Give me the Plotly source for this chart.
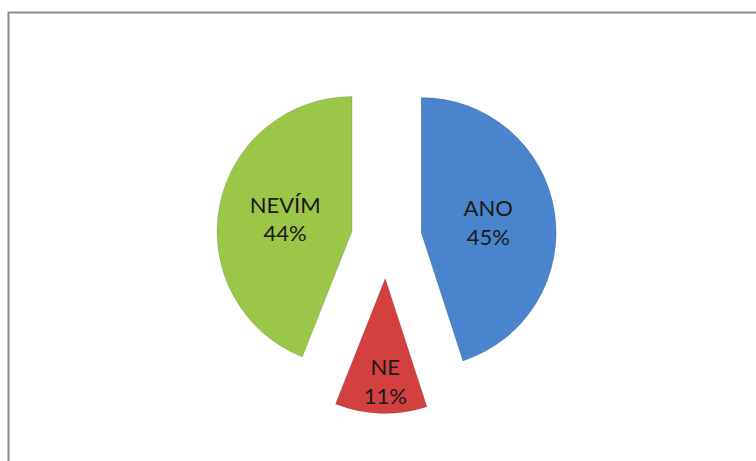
import plotly.graph_objects as go

labels = ["ANO", "NE", "NEVÍM"]
values = [45, 11, 44]
colors = ["#4A84CC", "#D2413F", "#9CC648"]
pulls = [0.26, 0.30, 0.26]

W, H = 756, 461
cx, cy, span = 386.5, 238, 351

fig = go.Figure(go.Pie(
    labels=labels,
    values=values,
    sort=False,
    direction="clockwise",
    rotation=0,
    pull=pulls,
    marker=dict(colors=colors, line=dict(color="rgba(0,0,0,0.12)", width=1)),
    textinfo="label+percent",
    texttemplate="%{label}<br>%{percent:.0%}",
    textposition="inside",
    insidetextorientation="horizontal",
    textfont=dict(family="Lato", size=22, color="#1a1a1a"),
    domain=dict(x=[(cx - span / 2) / W, (cx + span / 2) / W],
                y=[1 - (cy + span / 2) / H, 1 - (cy - span / 2) / H]),
    showlegend=False,
    hoverinfo="label+percent",
))

fig.add_shape(type="rect", xref="paper", yref="paper",
              x0=8.5 / W, x1=1.02, y0=-0.02, y1=1 - 12.5 / H,
              line=dict(color="#8c8c8c", width=2), fillcolor="rgba(0,0,0,0)")

fig.update_layout(width=W, height=H, margin=dict(l=0, r=0, t=0, b=0),
                  paper_bgcolor="white", plot_bgcolor="white")
fig.write_html("out.html")
